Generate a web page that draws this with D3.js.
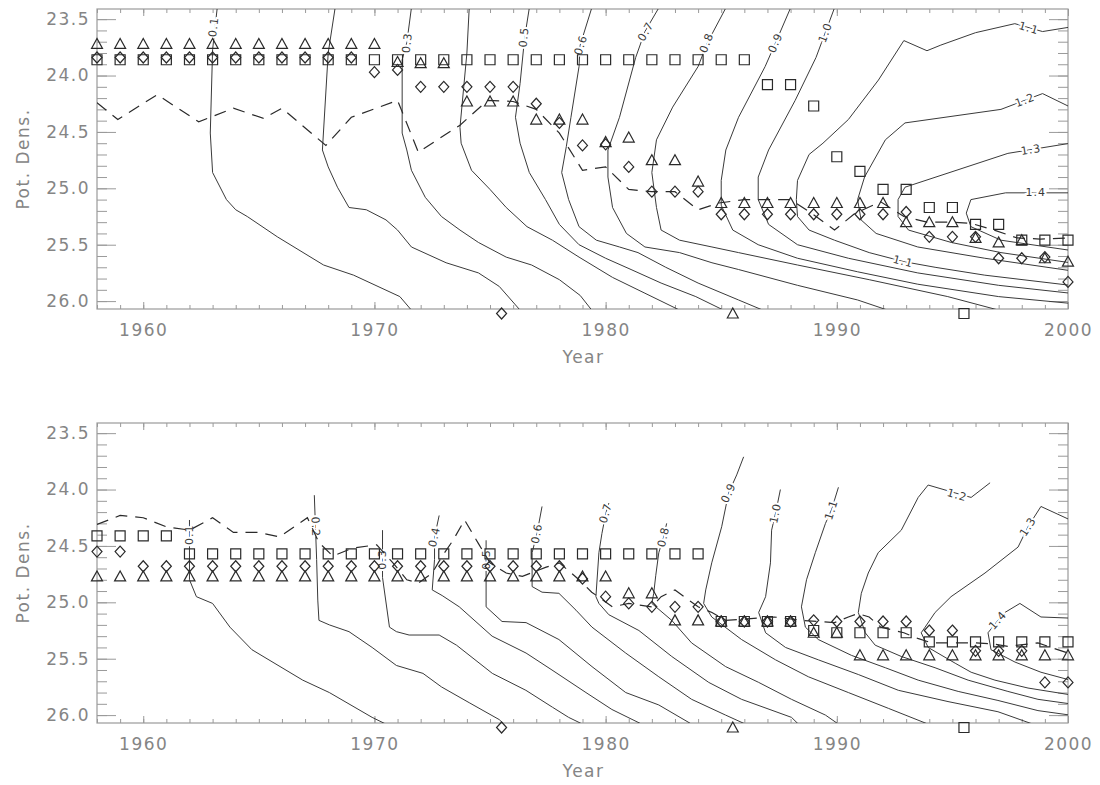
<!DOCTYPE html>
<html>
<head>
<meta charset="utf-8">
<script src="https://cdn.jsdelivr.net/npm/d3@7"></script>
<style>
  body { margin: 0; background: #fff; }
  text { font-family: "DejaVu Sans", sans-serif; }
</style>
</head>
<body>
<div id="chart"></div>
<script>
// years 1958..2000, one marker of each kind per year
const years = d3.range(1958, 2001);

const xMajorTicks = [1960, 1970, 1980, 1990, 2000];
const yMajorTicks = [23.5, 24.0, 24.5, 25.0, 25.5, 26.0];

// ---- top panel markers
const topSquare = [
  23.86, 23.86, 23.86, 23.86, 23.86, 23.86, 23.86, 23.86, 23.86, 23.86,
  23.86, 23.86, 23.86, 23.86, 23.86, 23.86, 23.86, 23.86, 23.86, 23.86,
  23.86, 23.86, 23.86, 23.86, 23.86, 23.86, 23.86, 23.86, 23.86,
  24.08, 24.08, 24.27, 24.72, 24.85, 25.01, 25.01, 25.17, 25.17, 25.32,
  25.32, 25.46, 25.46, 25.46
];
const topTriangle = [
  23.72, 23.72, 23.72, 23.72, 23.72, 23.72, 23.72, 23.72, 23.72, 23.72,
  23.72, 23.72, 23.72, 23.88, 23.89, 23.89, 24.23, 24.23, 24.23, 24.39,
  24.39, 24.39, 24.59, 24.55, 24.75, 24.75, 24.94, 25.13, 25.13, 25.13,
  25.13, 25.13, 25.13, 25.13, 25.13, 25.30, 25.30, 25.30, 25.44, 25.48,
  25.46, 25.62, 25.65
];
const topDiamond = [
  23.84, 23.84, 23.84, 23.84, 23.84, 23.84, 23.84, 23.84, 23.84, 23.84,
  23.84, 23.84, 23.97, 23.95, 24.10, 24.10, 24.10, 24.10, 24.10, 24.25,
  24.42, 24.62, 24.61, 24.81, 25.03, 25.03, 25.03, 25.23, 25.23, 25.23,
  25.23, 25.23, 25.23, 25.23, 25.23, 25.21, 25.43, 25.43, 25.43, 25.62,
  25.62, 25.61, 25.83
];

// ---- bottom panel markers
const botSquare = [
  24.41, 24.41, 24.41, 24.41, 24.57, 24.57, 24.57, 24.57, 24.57, 24.57,
  24.57, 24.57, 24.57, 24.57, 24.57, 24.57, 24.57, 24.57, 24.57, 24.57,
  24.57, 24.57, 24.57, 24.57, 24.57, 24.57, 24.57, 25.17, 25.17, 25.17,
  25.17, 25.25, 25.27, 25.27, 25.27, 25.27, 25.35, 25.35, 25.35, 25.35,
  25.35, 25.35, 25.35
];
const botDiamond = [
  24.55, 24.55, 24.68, 24.68, 24.68, 24.68, 24.68, 24.68, 24.68, 24.68,
  24.68, 24.68, 24.68, 24.68, 24.68, 24.68, 24.68, 24.68, 24.68, 24.68,
  24.68, 24.79, 24.95, 25.01, 25.04, 25.04, 25.04, 25.17, 25.17, 25.17,
  25.17, 25.16, 25.17, 25.17, 25.17, 25.17, 25.25, 25.25, 25.43, 25.43,
  25.43, 25.71, 25.71
];
const botTriangle = [
  24.77, 24.77, 24.77, 24.77, 24.77, 24.77, 24.77, 24.77, 24.77, 24.77,
  24.77, 24.77, 24.77, 24.77, 24.77, 24.77, 24.77, 24.77, 24.77, 24.77,
  24.77, 24.77, 24.77, 24.92, 24.92, 25.16, 25.16, 25.17, 25.17, 25.17,
  25.17, 25.27, 25.27, 25.47, 25.47, 25.47, 25.47, 25.47, 25.47, 25.47,
  25.47, 25.47, 25.47
];

// symbols shown below the axis in both panels
const keyShapes = ["diamond", "triangle", "square"];
const keyYears = [1975.5, 1985.5, 1995.5];
const keyDens = 26.11;

// ---- dashed lines [year, density]
const topDash = [
  [1958.0, 24.24], [1958.9, 24.39], [1960.6, 24.17], [1962.4, 24.41], [1963.9, 24.29],
  [1965.2, 24.38], [1966.0, 24.29], [1967.9, 24.62], [1969.0, 24.37], [1970.2, 24.28],
  [1971.0, 24.22], [1971.9, 24.68], [1973.7, 24.44], [1974.9, 24.22], [1976.0, 24.23],
  [1977.0, 24.30], [1978.0, 24.51], [1979.0, 24.84], [1980.0, 24.81], [1981.0, 25.01],
  [1982.0, 25.03], [1983.0, 25.03], [1984.0, 25.19], [1984.9, 25.13], [1986.0, 25.10],
  [1988.0, 25.10], [1988.9, 25.22], [1989.9, 25.37], [1990.8, 25.22], [1991.9, 25.12],
  [1992.9, 25.25], [1993.9, 25.30], [1995.0, 25.30], [1995.8, 25.31], [1996.8, 25.37],
  [1997.8, 25.44], [1998.8, 25.45], [2000.0, 25.44]
];
const botDash = [
  [1958.0, 24.31], [1959.0, 24.23], [1960.0, 24.25], [1961.0, 24.33], [1962.0, 24.36],
  [1963.0, 24.25], [1963.9, 24.38], [1965.0, 24.38], [1965.9, 24.42], [1967.1, 24.25],
  [1967.6, 24.47], [1968.2, 24.59], [1969.05, 24.52], [1970.1, 24.49], [1970.8, 24.65],
  [1971.4, 24.80], [1971.9, 24.83], [1972.5, 24.74], [1972.9, 24.60], [1973.4, 24.45],
  [1973.9, 24.27], [1974.5, 24.48], [1975.0, 24.65], [1975.7, 24.74], [1976.4, 24.77],
  [1977.4, 24.69], [1978.0, 24.65], [1978.85, 24.80], [1979.4, 24.91], [1980.3, 25.04],
  [1981.0, 25.01], [1982.0, 25.04], [1982.4, 24.95], [1983.0, 24.89], [1983.6, 24.98],
  [1984.0, 25.04], [1984.6, 25.09], [1985.2, 25.16], [1987.3, 25.13], [1988.5, 25.16],
  [1989.9, 25.18], [1990.5, 25.13], [1990.9, 25.10], [1991.4, 25.13], [1991.9, 25.22],
  [1992.9, 25.27], [1993.5, 25.32], [1994.1, 25.36], [1996.0, 25.36], [1996.8, 25.37],
  [1997.4, 25.39], [1998.7, 25.36], [2000.0, 25.45]
];

// ---- contours [level, [[year, density], ...]]
const topContours = [
  [0.1, [[1963.2, 23.40], [1963.0, 23.77], [1962.9, 24.51], [1963.0, 24.86], [1963.6, 25.10], [1964.0, 25.19], [1964.5, 25.25], [1965.8, 25.43], [1967.8, 25.68], [1969.1, 25.77], [1971.1, 25.96], [1971.6, 26.08]]],
  [0.2, [[1968.3, 23.40], [1968.0, 23.80], [1967.75, 24.66], [1968.0, 24.81], [1968.4, 24.99], [1968.9, 25.17], [1969.65, 25.19], [1970.5, 25.28], [1971.0, 25.37], [1971.6, 25.52], [1973.1, 25.66], [1974.5, 25.75], [1975.4, 25.87], [1976.3, 26.08]]],
  [0.3, [[1971.6, 23.40], [1971.4, 23.71], [1971.2, 23.86], [1971.2, 24.51], [1971.4, 24.66], [1971.6, 24.84], [1972.2, 25.08], [1972.9, 25.25], [1973.7, 25.37], [1974.5, 25.48], [1975.7, 25.61], [1976.8, 25.68], [1978.0, 25.81], [1978.9, 25.95], [1979.4, 26.08]]],
  [0.4, [[1974.1, 23.40], [1974.0, 23.80], [1973.7, 24.46], [1973.75, 24.60], [1974.2, 24.84], [1975.0, 25.01], [1975.7, 25.17], [1976.6, 25.34], [1977.7, 25.46], [1978.85, 25.61], [1980.3, 25.79], [1981.7, 25.93], [1983.2, 26.08]]],
  [0.5, [[1976.7, 23.40], [1976.5, 23.66], [1976.3, 24.07], [1976.1, 24.37], [1976.3, 24.60], [1976.7, 24.86], [1977.4, 25.10], [1978.0, 25.32], [1978.85, 25.50], [1980.0, 25.62], [1981.1, 25.72], [1982.4, 25.84], [1983.9, 25.96], [1985.1, 26.08]]],
  [0.6, [[1979.4, 23.40], [1978.9, 23.73], [1978.85, 23.92], [1978.5, 24.37], [1978.3, 24.63], [1978.1, 24.86], [1978.4, 25.10], [1978.85, 25.34], [1979.6, 25.46], [1980.6, 25.52], [1981.4, 25.57], [1982.6, 25.70], [1984.0, 25.84], [1985.75, 25.99], [1986.8, 26.08]]],
  [0.7, [[1982.3, 23.40], [1981.7, 23.61], [1981.3, 23.84], [1980.6, 24.37], [1980.1, 24.66], [1980.1, 24.90], [1980.3, 25.17], [1980.9, 25.40], [1981.7, 25.52], [1983.2, 25.57], [1984.6, 25.66], [1985.75, 25.72], [1988.3, 25.86], [1990.9, 25.99], [1992.2, 26.08]]],
  [0.8, [[1985.2, 23.40], [1984.4, 23.71], [1984.0, 23.92], [1982.9, 24.28], [1982.2, 24.57], [1982.0, 24.86], [1982.2, 25.17], [1982.4, 25.37], [1983.2, 25.46], [1984.6, 25.52], [1985.75, 25.57], [1988.3, 25.68], [1991.4, 25.81], [1994.8, 25.96], [1997.0, 26.08]]],
  [0.9, [[1988.0, 23.40], [1987.35, 23.71], [1986.9, 23.92], [1985.75, 24.37], [1985.2, 24.66], [1985.0, 24.93], [1985.0, 25.15], [1985.5, 25.37], [1986.6, 25.50], [1988.3, 25.62], [1990.9, 25.74], [1993.5, 25.85], [1997.0, 25.96], [2000.1, 26.02]]],
  [1.0, [[1989.9, 23.40], [1989.5, 23.62], [1989.1, 23.84], [1988.2, 24.22], [1987.05, 24.66], [1986.6, 24.90], [1986.6, 25.10], [1987.05, 25.32], [1988.3, 25.50], [1990.5, 25.62], [1993.5, 25.75], [1997.0, 25.86], [2000.1, 25.93]]],
  [1.1, [[2000.1, 23.57], [1998.9, 23.61], [1997.7, 23.54], [1996.0, 23.62], [1994.5, 23.73], [1993.9, 23.78], [1992.9, 23.69], [1991.8, 24.04], [1990.5, 24.39], [1989.4, 24.60], [1988.8, 24.70], [1988.3, 24.93], [1988.25, 25.10], [1988.3, 25.25], [1988.8, 25.37], [1989.9, 25.46], [1991.4, 25.57], [1992.9, 25.65], [1994.25, 25.70], [1996.4, 25.77], [2000.1, 25.86]]],
  [1.2, [[2000.1, 24.28], [1998.9, 24.16], [1997.1, 24.30], [1992.95, 24.42], [1992.1, 24.57], [1991.2, 24.90], [1990.9, 25.10], [1991.05, 25.28], [1991.7, 25.40], [1993.5, 25.52], [1996.4, 25.62], [2000.1, 25.73]]],
  [1.3, [[2000.1, 24.60], [1997.4, 24.69], [1992.95, 24.99], [1992.65, 25.10], [1992.65, 25.25], [1993.1, 25.37], [1994.95, 25.48], [1997.1, 25.57], [2000.1, 25.66]]],
  [1.4, [[2000.1, 25.04], [1997.3, 25.04], [1995.8, 25.10], [1995.6, 25.22], [1995.8, 25.34], [1997.1, 25.46], [2000.1, 25.55]]]
];
const botContours = [
  [0.1, [[1962.0, 24.27], [1962.0, 24.80], [1962.3, 24.95], [1963.0, 25.01], [1963.75, 25.22], [1964.7, 25.42], [1966.9, 25.69], [1968.05, 25.80], [1969.9, 26.02], [1970.5, 26.08]]],
  [0.2, [[1967.4, 24.05], [1967.5, 24.62], [1967.55, 24.98], [1967.6, 25.16], [1968.05, 25.20], [1968.9, 25.26], [1969.9, 25.40], [1970.95, 25.56], [1972.1, 25.63], [1972.9, 25.75], [1974.1, 25.89], [1975.4, 26.04], [1975.6, 26.08]]],
  [0.3, [[1970.35, 24.36], [1970.35, 24.78], [1970.65, 25.22], [1970.95, 25.26], [1971.5, 25.29], [1972.8, 25.29], [1973.55, 25.38], [1975.1, 25.63], [1976.55, 25.78], [1977.7, 25.93], [1978.4, 26.02], [1979.0, 26.08]]],
  [0.4, [[1972.8, 24.23], [1972.6, 24.42], [1972.6, 24.62], [1972.5, 24.89], [1972.93, 24.94], [1973.67, 25.04], [1975.09, 25.30], [1976.56, 25.45], [1977.68, 25.60], [1979.15, 25.80], [1980.27, 25.95], [1981.56, 26.08]]],
  [0.5, [[1974.83, 24.45], [1974.83, 25.04], [1975.52, 25.17], [1976.56, 25.18], [1977.98, 25.33], [1979.41, 25.57], [1980.87, 25.80], [1982.3, 25.91], [1983.72, 26.08]]],
  [0.6, [[1977.25, 24.15], [1977.03, 24.39], [1976.82, 24.56], [1976.82, 24.86], [1977.25, 24.91], [1977.98, 24.92], [1978.72, 25.07], [1979.41, 25.22], [1980.87, 25.45], [1982.3, 25.66], [1983.72, 25.86], [1985.19, 26.00], [1986.05, 26.08]]],
  [0.7, [[1980.14, 24.12], [1980.01, 24.21], [1979.84, 24.39], [1979.71, 24.56], [1979.58, 24.95], [1979.71, 25.01], [1980.14, 25.11], [1981.44, 25.25], [1982.86, 25.48], [1984.46, 25.71], [1985.88, 25.86], [1988.04, 26.02], [1988.34, 26.08]]],
  [0.8, [[1982.64, 24.30], [1982.51, 24.42], [1982.3, 24.56], [1982.17, 24.76], [1982.08, 24.92], [1982.0, 25.01], [1982.86, 25.16], [1983.72, 25.36], [1985.19, 25.57], [1986.62, 25.71], [1988.04, 25.86], [1989.51, 26.00], [1990.07, 26.08]]],
  [0.9, [[1985.97, 23.71], [1985.67, 23.87], [1985.32, 24.03], [1985.02, 24.33], [1984.59, 24.65], [1984.33, 24.89], [1984.24, 25.01], [1984.59, 25.13], [1985.88, 25.33], [1987.35, 25.51], [1988.77, 25.66], [1990.5, 25.80], [1992.23, 25.94], [1993.95, 26.08]]],
  [1.0, [[1987.56, 24.00], [1987.35, 24.21], [1987.18, 24.36], [1987.13, 24.65], [1986.92, 24.95], [1986.62, 25.09], [1986.92, 25.27], [1987.78, 25.40], [1989.2, 25.51], [1990.93, 25.64], [1992.66, 25.78], [1994.81, 25.88], [1996.97, 25.97], [1998.48, 26.08]]],
  [1.1, [[1990.07, 23.98], [1989.77, 24.18], [1989.51, 24.30], [1989.07, 24.56], [1988.69, 24.80], [1988.47, 25.04], [1988.64, 25.22], [1989.2, 25.33], [1990.63, 25.47], [1992.1, 25.58], [1993.52, 25.69], [1995.25, 25.79], [1996.97, 25.87], [1998.7, 25.96], [2000.1, 26.00]]],
  [1.2, [[1996.63, 23.94], [1995.81, 24.07], [1995.12, 24.03], [1993.95, 23.96], [1993.52, 24.07], [1992.79, 24.36], [1991.79, 24.56], [1991.36, 24.74], [1991.06, 24.92], [1990.93, 25.09], [1991.23, 25.27], [1991.66, 25.38], [1992.79, 25.48], [1994.25, 25.58], [1995.68, 25.69], [1997.4, 25.79], [1998.7, 25.86], [2000.1, 25.90]]],
  [1.3, [[2000.1, 24.27], [1998.83, 24.15], [1998.27, 24.33], [1997.84, 24.51], [1996.41, 24.74], [1994.94, 24.95], [1994.25, 25.09], [1993.82, 25.22], [1993.65, 25.27], [1993.95, 25.40], [1995.12, 25.54], [1995.81, 25.62], [1996.84, 25.69], [1998.27, 25.76], [2000.1, 25.82]]],
  [1.4, [[2000.1, 25.14], [1998.83, 25.13], [1997.92, 25.01], [1997.27, 25.09], [1996.97, 25.16], [1996.54, 25.27], [1996.67, 25.42], [1997.71, 25.53], [1998.83, 25.62], [2000.1, 25.69]]]
];

// contour labels [level, year, density]
const topLabels = [
  [0.1, 1963.05, 23.57], [0.3, 1971.42, 23.71], [0.5, 1976.47, 23.66], [0.6, 1978.93, 23.73],
  [0.7, 1981.74, 23.61], [0.8, 1984.37, 23.71], [0.9, 1987.35, 23.71], [1.0, 1989.51, 23.62],
  [1.1, 1998.3, 23.58], [1.2, 1998.14, 24.22], [1.3, 1998.4, 24.66], [1.4, 1998.6, 25.04],
  [1.1, 1992.87, 25.65]
];
const botLabels = [
  [0.1, 1962.0, 24.40], [0.2, 1967.45, 24.33], [0.3, 1970.35, 24.62], [0.4, 1972.6, 24.42],
  [0.5, 1974.83, 24.62], [0.6, 1977.03, 24.39], [0.7, 1980.01, 24.21], [0.8, 1982.51, 24.42],
  [0.9, 1985.32, 24.03], [1.0, 1987.35, 24.21], [1.1, 1989.77, 24.18], [1.2, 1995.2, 24.05],
  [1.3, 1998.27, 24.33], [1.4, 1996.97, 25.16]
];

// =====================
// LAYOUT
// =====================
const width = 1100;
const height = 785;
const left = 97, right = 1068;
const plotH = 300;
const yDomain = [23.41, 26.07];
const axisColor = "#9a9a9a";
const textColor = "#858585";
const inkColor = "#2a2a2a";

const x = d3.scaleLinear().domain([1958, 2000]).range([left, right]);

const svg = d3.select("#chart")
  .append("svg")
  .attr("width", width)
  .attr("height", height);

const shapes = {
  square: (cx, cy) => `M${cx - 5},${cy - 5}h10v10h-10Z`,
  diamond: (cx, cy) => `M${cx},${cy - 5.5}L${cx + 5},${cy}L${cx},${cy + 5.5}L${cx - 5},${cy}Z`,
  triangle: (cx, cy) => `M${cx - 5.5},${cy + 4.5}L${cx},${cy - 5.5}L${cx + 5.5},${cy + 4.5}Z`
};

function styleAxis(sel) {
  sel.attr("color", axisColor);
  sel.select(".domain").remove();
  sel.selectAll("text")
    .attr("fill", textColor)
    .attr("font-size", 17)
    .attr("font-family", "'DejaVu Sans', sans-serif")
    .style("letter-spacing", "1.5px");
}

function labelAngle(pts, px, py) {
  let best = Infinity, ang = 0;
  for (let i = 0; i < pts.length - 1; i++) {
    const [ax, ay] = pts[i], [bx, by] = pts[i + 1];
    const dx = bx - ax, dy = by - ay;
    const len2 = dx * dx + dy * dy || 1;
    let t = ((px - ax) * dx + (py - ay) * dy) / len2;
    t = Math.max(0, Math.min(1, t));
    const qx = ax + t * dx, qy = ay + t * dy;
    const dist = (px - qx) ** 2 + (py - qy) ** 2;
    if (dist < best) {
      best = dist;
      ang = Math.atan2(dy, dx) * 180 / Math.PI;
    }
  }
  if (ang > 90) ang -= 180;
  if (ang <= -90) ang += 180;
  if (ang === 90) ang = -90;
  return ang;
}

function drawPanel(top, idx, markers, contours, labels, dash) {
  const y = d3.scaleLinear().domain(yDomain).range([top, top + plotH]);
  const g = svg.append("g");

  g.append("clipPath").attr("id", "clip" + idx)
    .append("rect")
    .attr("x", left).attr("y", top)
    .attr("width", right - left).attr("height", plotH);

  // axes
  const yMinor = d3.range(235, 261).map(v => v / 10);
  const xMinor = years;

  g.append("g").attr("transform", `translate(${left},0)`)
    .call(d3.axisLeft(y).tickValues(yMinor).tickSize(-10).tickFormat(""))
    .call(styleAxis);
  g.append("g").attr("transform", `translate(${left},0)`)
    .call(d3.axisLeft(y).tickValues(yMajorTicks).tickSize(-19).tickPadding(7).tickFormat(d3.format(".1f")))
    .call(styleAxis);
  g.append("g").attr("transform", `translate(${right},0)`)
    .call(d3.axisRight(y).tickValues(yMinor).tickSize(-10).tickFormat(""))
    .call(styleAxis);
  g.append("g").attr("transform", `translate(${right},0)`)
    .call(d3.axisRight(y).tickValues(yMajorTicks).tickSize(-19).tickFormat(""))
    .call(styleAxis);
  g.append("g").attr("transform", `translate(0,${top + plotH})`)
    .call(d3.axisBottom(x).tickValues(xMinor).tickSize(-4).tickFormat(""))
    .call(styleAxis);
  g.append("g").attr("transform", `translate(0,${top + plotH})`)
    .call(d3.axisBottom(x).tickValues(xMajorTicks).tickSize(-7).tickPadding(15).tickFormat(d3.format("d")))
    .call(styleAxis);
  g.append("g").attr("transform", `translate(0,${top})`)
    .call(d3.axisTop(x).tickValues(xMinor).tickSize(-4).tickFormat(""))
    .call(styleAxis);
  g.append("g").attr("transform", `translate(0,${top})`)
    .call(d3.axisTop(x).tickValues(xMajorTicks).tickSize(-7).tickFormat(""))
    .call(styleAxis);

  g.append("rect")
    .attr("x", left).attr("y", top)
    .attr("width", right - left).attr("height", plotH)
    .attr("fill", "none")
    .attr("stroke", axisColor)
    .attr("stroke-width", 1.2);

  // axis titles
  g.append("text")
    .attr("transform", `translate(24,${top + 150}) rotate(-90)`)
    .attr("text-anchor", "middle")
    .attr("dominant-baseline", "middle")
    .attr("fill", textColor)
    .attr("font-size", 17)
    .style("letter-spacing", "1.5px")
    .text("Pot. Dens.");
  g.append("text")
    .attr("x", (left + right) / 2 + 1)
    .attr("y", top + 354)
    .attr("text-anchor", "middle")
    .attr("fill", textColor)
    .attr("font-size", 17)
    .style("letter-spacing", "1.5px")
    .text("Year");

  // contours
  const line = d3.line().x(d => x(d[0])).y(d => y(d[1]));
  const plot = g.append("g").attr("clip-path", `url(#clip${idx})`);

  plot.selectAll(".contour")
    .data(contours)
    .join("path")
    .attr("class", "contour")
    .attr("d", d => line(d[1]))
    .attr("fill", "none")
    .attr("stroke", "#3a3a3a")
    .attr("stroke-width", 1);

  // contour labels
  plot.selectAll(".clabel")
    .data(labels)
    .join("text")
    .attr("class", "clabel")
    .attr("transform", d => {
      const c = contours.find(c => c[0] === d[0]);
      const pts = c[1].map(p => [x(p[0]), y(p[1])]);
      const px = x(d[1]), py = y(d[2]);
      return `translate(${px},${py}) rotate(${labelAngle(pts, px, py)})`;
    })
    .attr("text-anchor", "middle")
    .attr("dominant-baseline", "central")
    .attr("font-size", 11)
    .attr("fill", "#3a3a3a")
    .attr("stroke", "#fff")
    .attr("stroke-width", 4)
    .attr("paint-order", "stroke")
    .style("letter-spacing", "1px")
    .text(d => d3.format(".1f")(d[0]));

  // dashed line
  plot.append("path")
    .attr("d", line(dash))
    .attr("fill", "none")
    .attr("stroke", inkColor)
    .attr("stroke-width", 1.2)
    .attr("stroke-dasharray", "12,8");

  // markers
  markers.forEach(([shape, vals]) => {
    g.append("g").selectAll("path")
      .data(vals)
      .join("path")
      .attr("d", (v, i) => shapes[shape](x(years[i]), y(v)))
      .attr("fill", "none")
      .attr("stroke", inkColor)
      .attr("stroke-width", 1.2);
  });

  g.append("g").selectAll("path")
    .data(keyShapes)
    .join("path")
    .attr("d", (s, i) => shapes[s](x(keyYears[i]), y(keyDens)))
    .attr("fill", "none")
    .attr("stroke", inkColor)
    .attr("stroke-width", 1.2);
}

drawPanel(9, 0,
  [["square", topSquare], ["diamond", topDiamond], ["triangle", topTriangle]],
  topContours, topLabels, topDash);

drawPanel(423, 1,
  [["square", botSquare], ["diamond", botDiamond], ["triangle", botTriangle]],
  botContours, botLabels, botDash);
</script>
</body>
</html>
